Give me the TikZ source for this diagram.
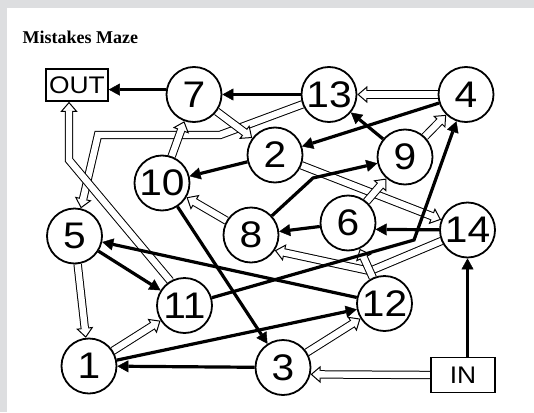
\documentclass[tikz,border=0pt]{standalone}
\usepackage{fontspec}
\newfontfamily\numf[FakeStretch=1.1]{Liberation Sans}
\newfontfamily\titlef{Liberation Serif}
\usetikzlibrary{arrows.meta}
\definecolor{bggray}{RGB}{221,222,224}
\pgfdeclarelayer{bottom}
\pgfdeclarelayer{edges}
\pgfsetlayers{bottom,edges,main}
\begin{document}
\begin{tikzpicture}[x=1pt,y=-1pt,
  circ/.style={circle, draw, line width=1.8pt, fill=white, minimum size=55pt, inner sep=0pt, font=\numf\fontsize{37}{40}\selectfont},
  boxn/.style={rectangle, draw, line width=1.6pt, fill=white, inner sep=0pt, font=\numf\fontsize{24}{26}\selectfont},
  blk/.style={line width=3.2pt, -{Triangle[length=11pt,width=12pt,line width=0.4pt]}},
  hol/.style={line width=8.4pt, -{Triangle[length=10pt,width=17pt,line width=1pt,color=black,fill=white]},
    postaction={draw=white, line width=6.4pt, -, shorten >=8.5pt}},
]
\begin{pgfonlayer}{bottom}
\fill[bggray] (0,0) rectangle (534,412);
\fill[white] (7,8) rectangle (534,412);
\end{pgfonlayer}
\useasboundingbox (0,0) rectangle (534,412);

\node[anchor=base west, font=\titlef\bfseries\fontsize{18}{20}\selectfont] (title) at (19,44) {Mistakes Maze};

\node[boxn, minimum width=62pt, minimum height=32pt] (nout) at (77,85) {OUT};
\node[boxn, minimum width=64pt, minimum height=35pt] (nin) at (463,375) {IN};

\node[circ] (seven) at (194,94.5) {7};
\node[circ] (thirteen) at (329,94.5) {13};
\node[circ] (four) at (466,94.5) {4};
\node[circ] (two) at (275,155) {2};
\node[circ] (nine) at (405,157) {9};
\node[circ] (ten) at (162,183) {10};
\node[circ] (eight) at (251,235) {8};
\node[circ] (six) at (348,223) {6};
\node[circ] (fourteen) at (467.5,230) {14};
\node[circ] (five) at (74.5,236) {5};
\node[circ] (eleven) at (184.5,305.5) {11};
\node[circ] (twelve) at (384.5,303.5) {12};
\node[circ] (one) at (89,366) {1};
\node[circ] (three) at (283,367.5) {3};

\coordinate (b13a) at (220,135);
\coordinate (b13b) at (98,135);
\coordinate (b11) at (69,160);
\coordinate (b14) at (370,271);
\coordinate (b114) at (414,240);
\coordinate (b89) at (313,178);

\begin{pgfonlayer}{edges}
% hollow (double) arrows
\draw[hol] (four) -- (thirteen);
\draw[hol] (thirteen) -- (b13a) -- (b13b) -- (five);
\draw[hol] (eleven.120) -- (b11) -- (b11 |- nout.south);
\draw[hol] (ten) -- (seven);
\draw[hol] (seven) -- (two);
\draw[hol] (two) -- (fourteen);
\draw[hol] (nine) -- (four);
\draw[hol] (six) -- (nine);
\draw[hol] (eight) -- (ten);
\draw[hol] (fourteen) -- (b14) -- (eight.-33);
\draw[hol] (twelve) -- (six);
\draw[hol] (three) -- (twelve);
\draw[hol] (one) -- (eleven);
\draw[hol] (five) -- (one);
\draw[hol] (nin.west) -- (three.-14);
% black arrows
\draw[blk] (seven.170) -- (seven.170 -| nout.east);
\draw[blk] (thirteen) -- (seven);
\draw[blk] (four) -- (two);
\draw[blk] (nine) -- (thirteen);
\draw[blk] (two) -- (ten);
\draw[blk] (eight) -- (b89) -- (nine);
\draw[blk] (six) -- (eight);
\draw[blk] (fourteen) -- (six.-13);
\draw[blk] (eleven) -- (b114) -- (four);
\draw[blk] (five) -- (eleven);
\draw[blk] (twelve) -- (five);
\draw[blk] (ten) -- (three);
\draw[blk] (one) -- (twelve);
\draw[blk] (three) -- (one);
\draw[blk] (nin.north -| fourteen) -- (fourteen);
\end{pgfonlayer}
\end{tikzpicture}
\end{document}
